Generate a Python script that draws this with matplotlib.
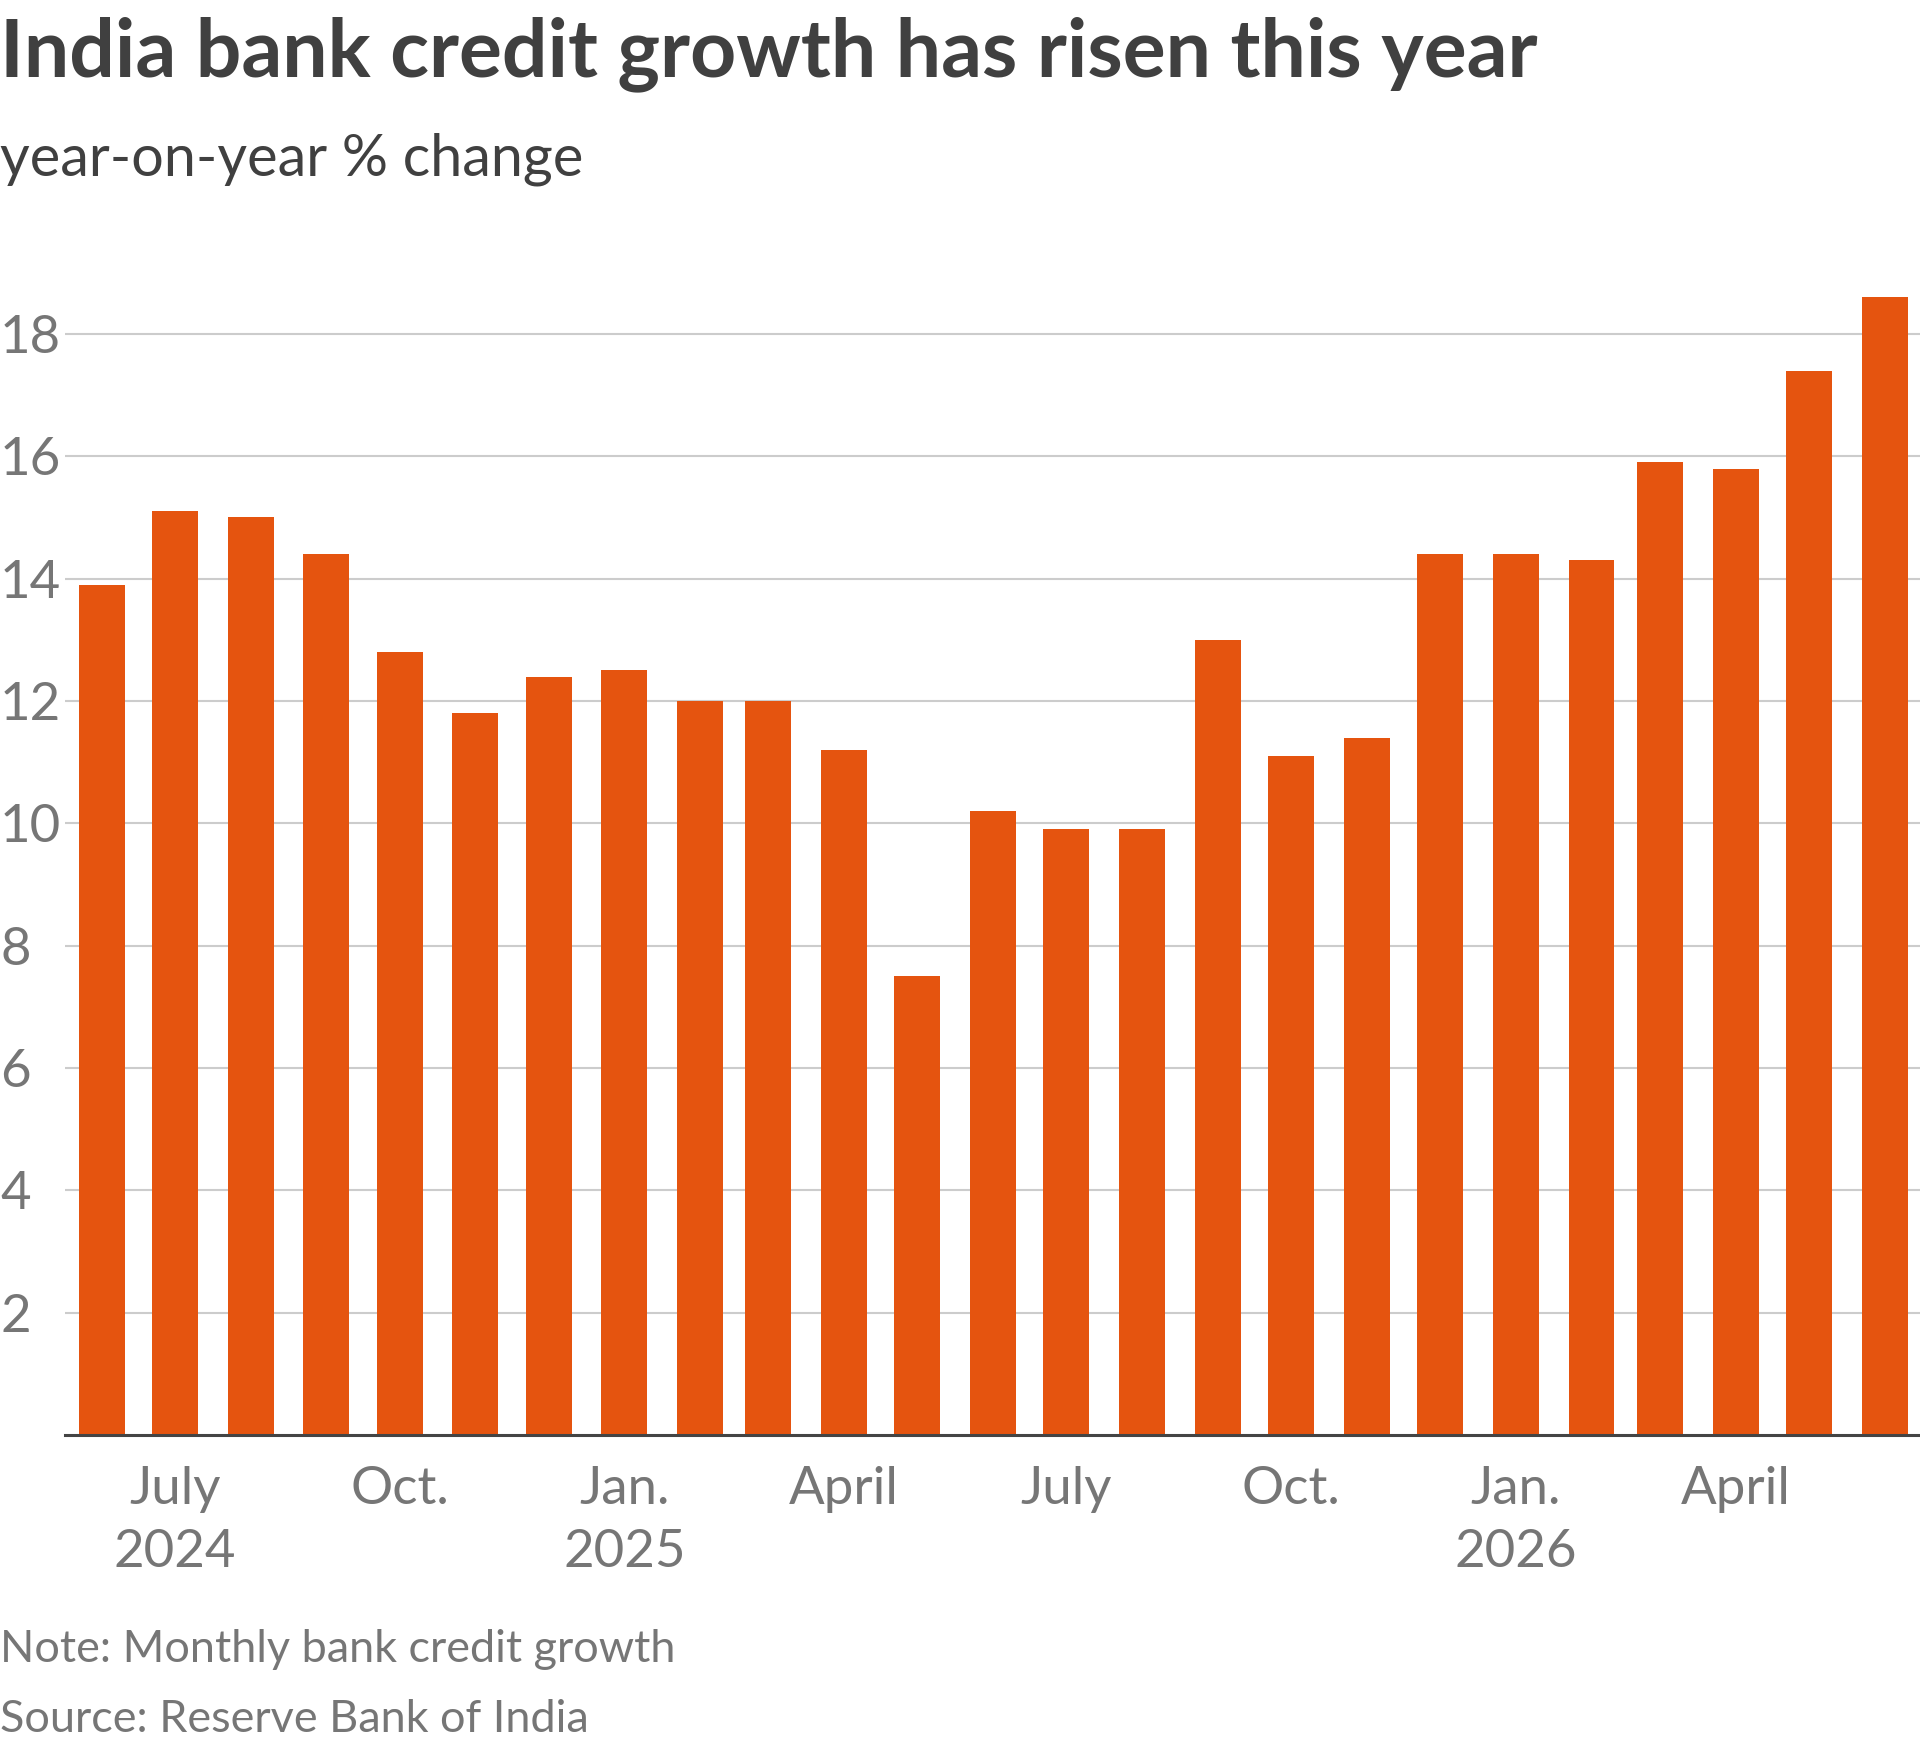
import datetime as dt
import matplotlib
matplotlib.use("Agg")
import matplotlib.pyplot as plt

# ---- data ----
months = ["2024-06", "2024-07", "2024-08", "2024-09", "2024-10", "2024-11", "2024-12",
          "2025-01", "2025-02", "2025-03", "2025-04", "2025-05", "2025-06", "2025-07",
          "2025-08", "2025-09", "2025-10", "2025-11", "2025-12", "2026-01", "2026-02",
          "2026-03", "2026-04", "2026-05", "2026-06"]
growth = [13.9, 15.1, 15.0, 14.4, 12.8, 11.8, 12.4, 12.5, 12.0, 12.0, 11.2, 7.5,
          10.2, 9.9, 9.9, 13.0, 11.1, 11.4, 14.4, 14.4, 14.3, 15.9, 15.8, 17.4, 18.6]
tick_months = ["2024-07", "2024-10", "2025-01", "2025-04", "2025-07", "2025-10", "2026-01", "2026-04"]
tick_labels = ["July\n2024", "Oct.", "Jan.\n2025", "April", "July", "Oct.", "Jan.\n2026", "April"]
y_ticks = [2, 4, 6, 8, 10, 12, 14, 16, 18]

title = "India bank credit growth has risen this year"
subtitle = "year-on-year % change"
note = "Note: Monthly bank credit growth"
source = "Source: Reserve Bank of India"

def to_date(s):
    y, m = s.split("-")
    return dt.datetime(int(y), int(m), 1)

dates = [to_date(m) for m in months]
tick_dates = [to_date(m) for m in tick_months]

plt.rcParams['font.family'] = ['Lato', 'DejaVu Sans']

W, H = 1920, 1747
fig = plt.figure(figsize=(W / 100, H / 100), dpi=100)
ax = fig.add_axes([65 / W, 0.17859, 1 - 65 / W, 0.66525])

BAR = "#e5540f"
GRAY = "#767676"
DARK = "#404040"

ax.bar(dates, growth, width=18.8, color=BAR, zorder=3, linewidth=0)
ax.set_ylim(0, 19)
ax.set_xlim(dt.datetime(2024, 5, 17), dt.datetime(2026, 6, 15, 12))

ax.set_yticks(y_ticks)
ax.set_yticklabels([str(v) for v in y_ticks])
ax.yaxis.grid(True, color="#cccccc", linewidth=1.5, zorder=0)
ax.tick_params(axis='y', length=0, pad=46.8, labelsize=38, labelcolor=GRAY)
for lbl in ax.get_yticklabels():
    lbl.set_horizontalalignment('left')

ax.set_xticks(tick_dates)
ax.set_xticklabels(tick_labels)
ax.tick_params(axis='x', length=0, pad=22, labelsize=38, labelcolor=GRAY)
for lbl in ax.get_xticklabels():
    lbl.set_linespacing(1.42)

for side in ["top", "right", "left"]:
    ax.spines[side].set_visible(False)
ax.spines["bottom"].set_color("#444444")
ax.spines["bottom"].set_linewidth(2.2)
ax.spines["bottom"].set_zorder(4)

fig.text(0, 1 - 76 / H, title, fontsize=58, fontweight='bold', color=DARK, va='baseline', ha='left')
fig.text(0, 1 - 176 / H, subtitle, fontsize=41.5, color=DARK, va='baseline', ha='left')
fig.text(0, 1 - 1662 / H, note, fontsize=32.4, color=GRAY, va='baseline', ha='left')
fig.text(0, 1 - 1732 / H, source, fontsize=32.4, color=GRAY, va='baseline', ha='left')

fig.savefig("out.png", dpi=100, facecolor="white")
